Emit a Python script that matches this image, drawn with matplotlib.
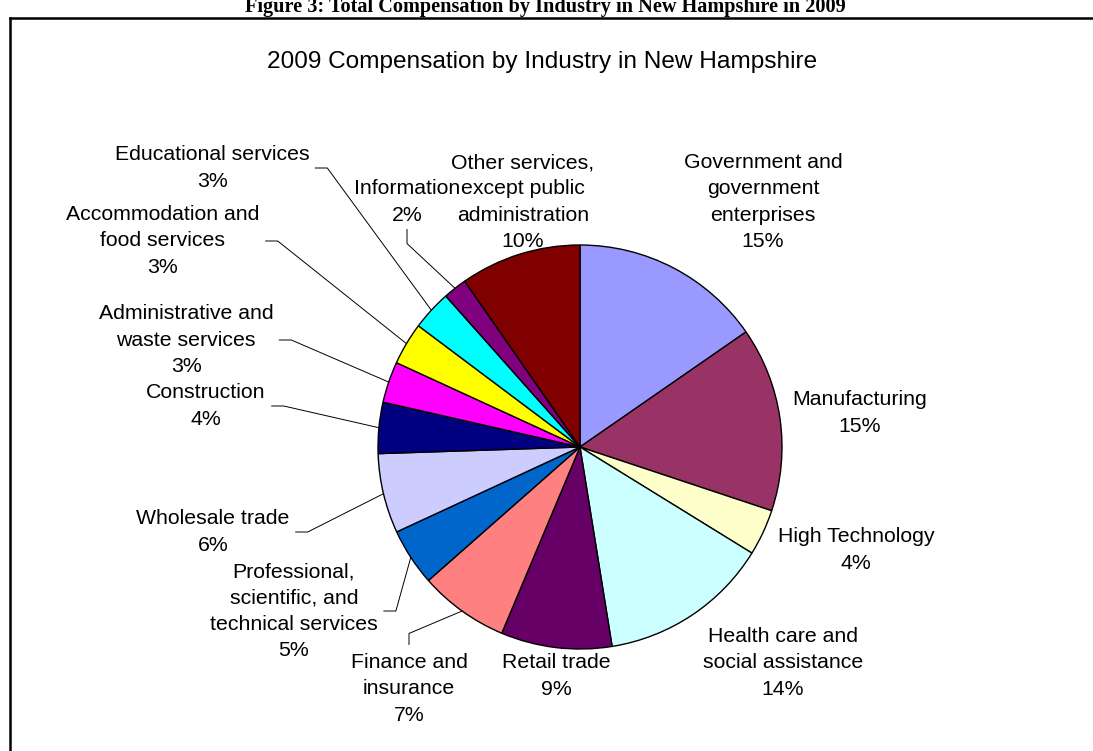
import numpy as np
import matplotlib.pyplot as plt
from matplotlib.lines import Line2D

plt.rcParams['font.family'] = ['Liberation Sans', 'DejaVu Sans']

# shares of total compensation, clockwise from 12 o'clock
industries = ['Government and\ngovernment\nenterprises', 'Manufacturing', 'High Technology',
              'Health care and\nsocial assistance', 'Retail trade', 'Finance and\ninsurance',
              'Professional,\nscientific, and\ntechnical services', 'Wholesale trade',
              'Construction', 'Administrative and\nwaste services',
              'Accommodation and\nfood services', 'Educational services', 'Information',
              'Other services,\nexcept public\nadministration']
shares = [15.4, 14.8, 3.7, 13.7, 8.9, 7.2, 4.6, 6.4, 4.1, 3.3, 3.4, 3.2, 1.9, 9.7]
colors = ['#9999FF', '#993366', '#FFFFCC', '#CCFFFF', '#660066', '#FF8080', '#0066CC',
          '#CCCCFF', '#000080', '#FF00FF', '#FFFF00', '#00FFFF', '#800080', '#800000']

W, H = 1093, 751
cx, cy, r = 580, H - 447, 202

# label block centres (pixels from top-left) and leader style
label_xy = [(763, 202), (860, 413), (856, 550), (783, 663), (556, 676), (409, 689),
            (294, 611), (213, 532), (206, 406), (186, 340), (163, 241), (212, 168),
            (407, 202), (523, 202)]
leader = [None, None, None, None, None, 'up', 'right', 'right', 'right', 'right',
          'right', 'right', 'down', None]

fig = plt.figure(figsize=(W / 100, H / 100), dpi=100)
ax = fig.add_axes([0, 0, 1, 1])

wedges, _ = ax.pie(shares, colors=colors, startangle=90, counterclock=False,
                   center=(cx, cy), radius=r,
                   wedgeprops=dict(edgecolor='black', linewidth=1.0))
ax.set_xlim(0, W)
ax.set_ylim(0, H)
ax.set_aspect('equal')
ax.axis('off')

total = sum(shares)
texts = []
for name, s, (lx, ly) in zip(industries, shares, label_xy):
    t = ax.text(lx, H - ly, f'{name}\n{s / total * 100:.0f}%', ha='center', va='center',
                fontsize=15.3, linespacing=1.47, color='black')
    texts.append(t)

fig.canvas.draw()
inv = ax.transData.inverted()
for w, t, kind in zip(wedges, texts, leader):
    if kind is None:
        continue
    (x0, y0), (x1, y1) = inv.transform(t.get_window_extent())
    mid = np.deg2rad((w.theta1 + w.theta2) / 2)
    ex, ey = cx + r * np.cos(mid), cy + r * np.sin(mid)
    if kind == 'right':
        ym = (y0 + y1) / 2
        xs, ys = [x1 + 6, x1 + 18, ex], [ym, ym, ey]
    elif kind == 'down':
        xm = (x0 + x1) / 2
        xs, ys = [xm, xm, ex], [y0 - 5, y0 - 19, ey]
    else:
        xm = (x0 + x1) / 2
        xs, ys = [xm, xm, ex], [y1 + 9, y1 + 20, ey]
    ax.plot(xs, ys, color='black', linewidth=0.7)

ax.text(W / 2 - 4, H - 62, '2009 Compensation by Industry in New Hampshire',
        ha='center', va='center', fontsize=17.6)

# page caption above the chart frame, partly off the top
fig.text(545 / W, 1 - 12 / H, 'Figure 3: Total Compensation by Industry in New Hampshire in 2009',
         ha='center', va='baseline', fontsize=14.6, fontweight='bold',
         family=['Liberation Serif', 'DejaVu Serif'])

# chart frame (only left and top edges fall inside the page)
fig.add_artist(Line2D([10 / W, 10 / W], [0, 1 - 18 / H], transform=fig.transFigure,
                      color='black', linewidth=1.8))
fig.add_artist(Line2D([10 / W, 1], [1 - 18 / H, 1 - 18 / H], transform=fig.transFigure,
                      color='black', linewidth=1.8))

fig.savefig('out.png', dpi=100, facecolor='white')
